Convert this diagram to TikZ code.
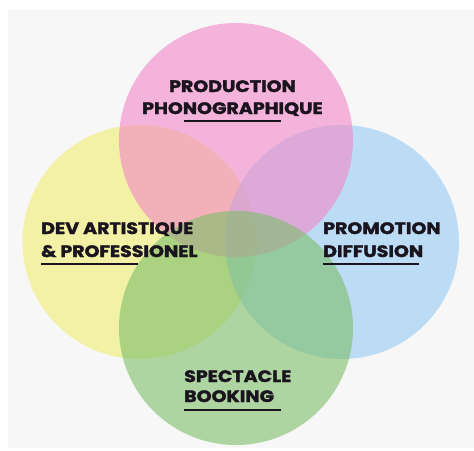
\documentclass[tikz,border=0pt]{standalone}
\usepackage{fontspec}
\setmainfont{Poppins}
\newfontfamily\heavy[BoldFeatures={FakeBold=2,FakeStretch=1.15}]{Poppins}
\definecolor{panel}{RGB}{247,247,247}
\definecolor{cpink}{RGB}{242,135,199}
\definecolor{cyellow}{RGB}{240,238,112}
\definecolor{cblue}{RGB}{149,202,244}
\definecolor{cgreen}{RGB}{124,190,104}
\definecolor{ink}{RGB}{25,20,30}
\begin{document}
\begin{tikzpicture}[x=1pt,y=-1pt,
  venn/.style={circle,minimum size=234pt,inner sep=0pt,fill opacity=0.6,text opacity=1},
  lbl/.style={inner sep=0pt,font=\heavy\fontsize{16.5}{16.5}\selectfont\bfseries,text=ink},
  uline/.style={draw=ink,line width=2pt}]
\useasboundingbox (0,0) rectangle (474,450);
\fill[white] (0,0) rectangle (474,450);
\fill[panel] (8,10) rectangle (474,448);
\node[venn,fill=cyellow] (dev) at (139.5,242) {};
\node[venn,fill=cblue] (promo) at (342,242) {};
\node[venn,fill=cpink] (prod) at (236,140) {};
\node[venn,fill=cgreen] (spec) at (236,328) {};
% labels
\node[lbl,anchor=base] (prod1) at (232.5,92) {PRODUCTION};
\node[lbl,anchor=base] (prod2) at (232.5,114) {PHONOGRAPHIQUE};
\coordinate (pu1) at (184,121); \coordinate (pu2) at (281,121);
\draw[uline] (pu1) -- (pu2);
\node[lbl,anchor=base west] (dev1) at (41,234) {DEV ARTISTIQUE};
\node[lbl,anchor=base west] (dev2) at (41,257) {\& PROFESSIONEL};
\coordinate (du1) at (41,263.5); \coordinate (du2) at (138,263.5);
\draw[uline] (du1) -- (du2);
\node[lbl,anchor=base west] (pro1) at (323,234) {PROMOTION};
\node[lbl,anchor=base west] (pro2) at (323,257) {DIFFUSION};
\coordinate (ru1) at (323,263.5); \coordinate (ru2) at (419,263.5);
\draw[uline] (ru1) -- (ru2);
\node[lbl,anchor=base west] (sp1) at (184,382) {SPECTACLE};
\node[lbl,anchor=base west] (sp2) at (184,402) {BOOKING};
\coordinate (su1) at (184,410); \coordinate (su2) at (281,410);
\draw[uline] (su1) -- (su2);
\end{tikzpicture}
\end{document}
